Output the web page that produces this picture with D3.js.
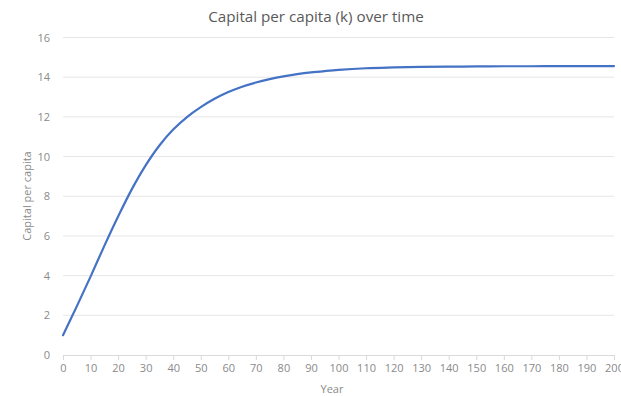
<!DOCTYPE html>
<html>
<head>
<meta charset="utf-8">
<script src="https://cdn.jsdelivr.net/npm/d3@7"></script>
<style>
  html, body { margin: 0; padding: 0; background: #fff; }
  svg { display: block; }
  text { font-family: "Open Sans", "Noto Sans", sans-serif; }
</style>
</head>
<body>
<svg id="chart" width="621" height="396"></svg>
<script>
// Capital per capita (k) by year
const years = [0, 5, 10, 15, 20, 25, 30, 35, 40, 45, 50, 55, 60, 65, 70, 75, 80, 85, 90, 95, 100,
               110, 120, 130, 140, 150, 160, 170, 180, 190, 200];
const capital = [1.0, 2.45, 3.95, 5.50, 6.98, 8.36, 9.56, 10.56, 11.36, 11.99, 12.49, 12.91, 13.25,
                 13.52, 13.73, 13.90, 14.04, 14.15, 14.24, 14.31, 14.37,
                 14.45, 14.49, 14.52, 14.53, 14.54, 14.55, 14.55, 14.56, 14.56, 14.56];
const xTicks = d3.range(0, 201, 10);
const yTicks = [0, 2, 4, 6, 8, 10, 12, 14, 16];

const titleText = "Capital per capita (k) over time";
const xLabel = "Year";
const yLabel = "Capital per capita";

const svg = d3.select("#chart");
const margin = { left: 63, right: 7, top: 37.5, bottom: 41 };
const W = 621, H = 396;

const x = d3.scaleLinear().domain([0, 200]).range([margin.left, W - margin.right]);
const y = d3.scaleLinear().domain([0, 16]).range([H - margin.bottom, margin.top]);

const labelColor = "#8a8a8a";

// horizontal gridlines
svg.append("g")
  .selectAll("line")
  .data(yTicks.filter(d => d > 0))
  .join("line")
  .attr("x1", x(0)).attr("x2", x(200))
  .attr("y1", d => y(d)).attr("y2", d => y(d))
  .attr("stroke", "#e6e6e6").attr("stroke-width", 1);

// x axis
const xAxis = svg.append("g")
  .attr("transform", `translate(0,${y(0)})`)
  .call(d3.axisBottom(x).tickValues(xTicks).tickSize(5).tickPadding(4));
xAxis.select(".domain").attr("stroke", "#d9d9d9");
xAxis.selectAll(".tick line").attr("stroke", "#d9d9d9");
xAxis.selectAll(".tick text")
  .attr("fill", labelColor)
  .style("font-size", "11px");

// y axis labels (no axis line)
const yAxis = svg.append("g")
  .attr("transform", `translate(${x(0)},0)`)
  .call(d3.axisLeft(y).tickValues(yTicks).tickSize(0).tickPadding(13));
yAxis.select(".domain").remove();
yAxis.selectAll(".tick text")
  .attr("fill", labelColor)
  .style("font-size", "11px");

// series line
const line = d3.line()
  .x((d, i) => x(years[i]))
  .y(d => y(d))
  .curve(d3.curveCatmullRom.alpha(0.5));

svg.append("path")
  .datum(capital)
  .attr("d", line)
  .attr("fill", "none")
  .attr("stroke", "#4472C4")
  .attr("stroke-width", 2.2)
  .attr("stroke-linecap", "round");

// title
svg.append("text")
  .attr("x", 316).attr("y", 22)
  .attr("text-anchor", "middle")
  .attr("fill", "#595959")
  .style("font-size", "15.2px")
  .text(titleText);

// axis titles
svg.append("text")
  .attr("x", 332).attr("y", 393)
  .attr("text-anchor", "middle")
  .attr("fill", labelColor)
  .style("font-size", "11px")
  .text(xLabel);

svg.append("text")
  .attr("transform", `translate(31,196) rotate(-90)`)
  .attr("text-anchor", "middle")
  .attr("fill", labelColor)
  .style("font-size", "11px")
  .text(yLabel);
</script>
</body>
</html>
